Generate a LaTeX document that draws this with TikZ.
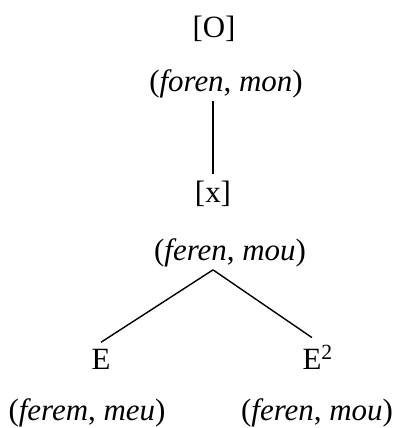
\documentclass[tikz,border=0pt]{standalone}
\usepackage{fontspec}
\setmainfont{Liberation Serif}
\usepackage{tikz}
\usetikzlibrary{positioning,calc}

\begin{document}
\begin{tikzpicture}[
    font=\fontsize{22}{26}\selectfont,
    cat/.style={
        anchor=base,
        inner sep=0.18cm
    },
    form/.style={
        anchor=base,
        inner sep=0.05cm
    },
    branch/.style={line width=1pt}
]
\useasboundingbox (0,0) rectangle (9.95,10.7);

% root
\node[cat] (O) at (5.35,9.75) {[O]};
\node[form] (Oform) at (5.65,8.4) {(\textit{foren}, \textit{mon})};

% middle
\node[cat] (x) at (5.325,5.625) {[x]};
\node[form] (xform) at (5.75,4.175) {(\textit{feren}, \textit{mou})};

% leaves
\node[cat] (e1) at (2.525,1.45) {E};
\node[form] (e1form) at (2.175,0.2) {(\textit{ferem}, \textit{meu})};

\node[cat] (e2) at (7.8,1.45) {E\rlap{\textsuperscript{2}}};
\node[form] (e2form) at (7.925,0.2) {(\textit{feren}, \textit{mou})};

\draw[branch] (Oform.south -| x.north) -- (x.north);
\draw[branch] (xform.south -| x.north) -- (e1.north);
\draw[branch] (xform.south -| x.north) -- (e2.north);

\end{tikzpicture}
\end{document}
